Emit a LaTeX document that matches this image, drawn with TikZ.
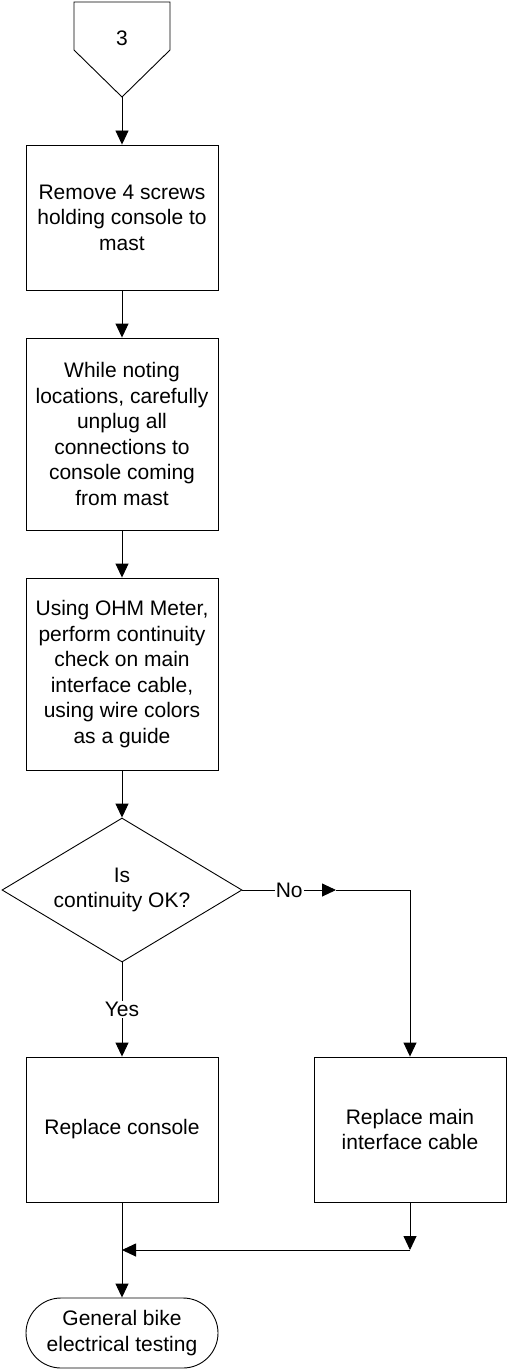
\documentclass[tikz,border=0pt]{standalone}
\usepackage{fontspec}
\setmainfont{Liberation Sans}
\usetikzlibrary{arrows.meta,shapes.geometric}
\begin{document}
\begin{tikzpicture}[x=1pt,y=-1pt,
  every node/.style={font=\fontsize{21}{25.5}\selectfont, align=center, inner sep=0pt},
  stepbox/.style={draw, line width=0.9pt, minimum width=192pt},
  decis/.style={draw, diamond, aspect=1.6667, line width=0.9pt, minimum width=240pt, minimum height=144pt},
  term/.style={draw, rounded corners=35pt, line width=0.9pt, minimum width=192pt, minimum height=70pt},
  lbl/.style={fill=white, inner sep=1pt},
  conn/.style={line width=0.9pt},
  arr/.style={conn, -{Triangle[width=13pt,length=14pt]}}]
\useasboundingbox (0,0) rectangle (507,1370);
% off-page connector
\draw[line width=0.9pt] (74,2) -- (170,2) -- (170,50) -- (122,97) -- (74,50) -- cycle;
\node (op) at (122,38) {3};
\coordinate (optip) at (122,97);
% boxes
\node[stepbox, minimum height=145pt] (b1) at (122,217.5) {Remove 4 screws\\holding console to\\mast};
\node[stepbox, minimum height=192pt] (b2) at (122,434) {While noting\\locations, carefully\\unplug all\\connections to\\console coming\\from mast};
\node[stepbox, minimum height=192pt] (b3) at (122,674) {Using OHM Meter,\\perform continuity\\check on main\\interface cable,\\using wire colors\\as a guide};
\node[decis] (d) at (122,890) {Is\\continuity OK?};
\node[stepbox, minimum height=145pt] (b4) at (122,1129.5) {Replace console};
\node[stepbox, minimum height=145pt] (b5) at (410,1129.5) {Replace main\\interface cable};
\node[term] (t) at (122,1333) {General bike\\electrical testing};
% coordinates
\coordinate (noarr) at (336,890);
\coordinate (nocorner) at (410,890);
\coordinate (mergeR) at (410,1250);
\coordinate (mergeL) at (122,1250);
% connectors
\draw[arr] (optip) -- (b1.north);
\draw[arr] (b1.south) -- (b2.north);
\draw[arr] (b2.south) -- (b3.north);
\draw[arr] (b3.south) -- (d.north);
\draw[arr] (d.south) -- node[lbl, pos=0.5] {Yes} (b4.north);
\draw[arr] (d.east) -- node[lbl, pos=0.5] {No} (noarr);
\draw[arr] (noarr) -- (nocorner) -- (b5.north);
\draw[arr] (b5.south) -- (mergeR);
\draw[arr] (mergeR) -- (mergeL);
\draw[arr] (b4.south) -- (t.north);
\end{tikzpicture}
\end{document}
